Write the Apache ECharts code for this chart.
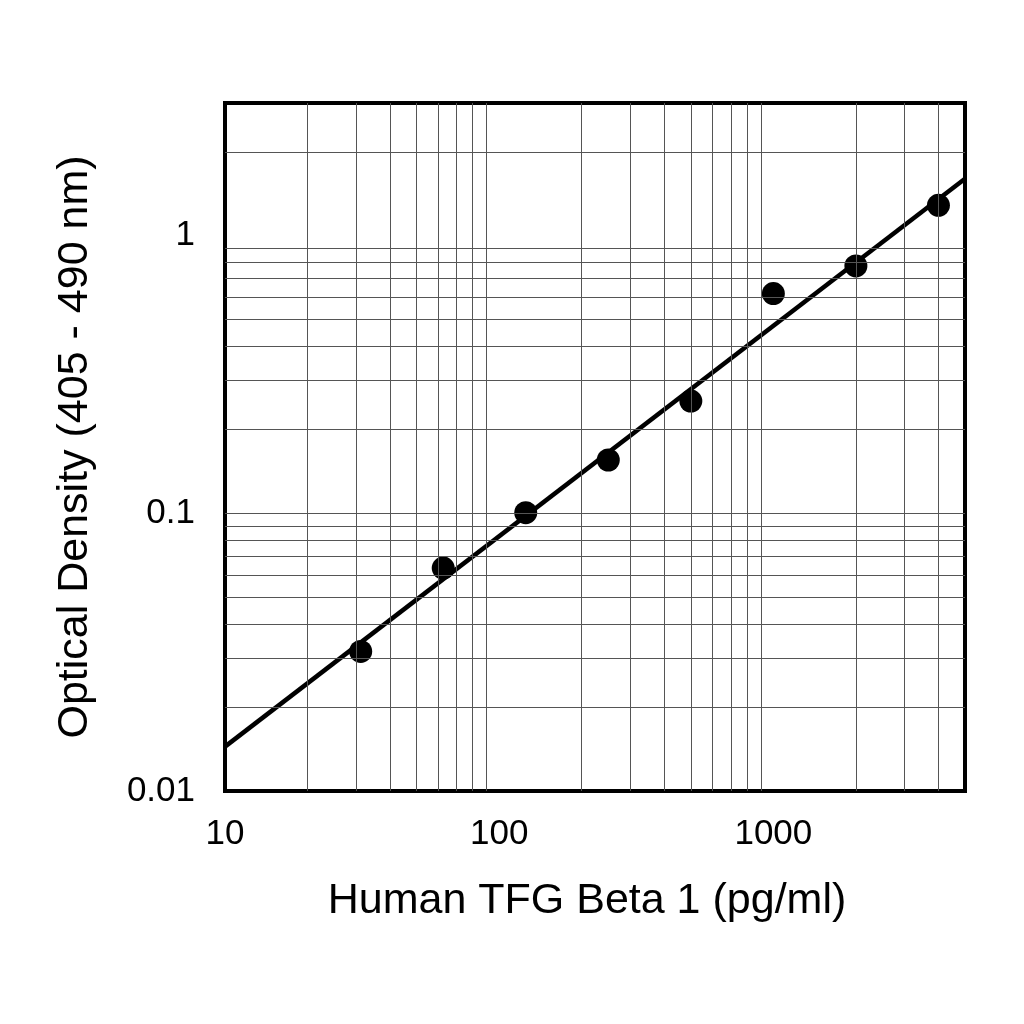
<!DOCTYPE html>
<html>
<head>
<meta charset="utf-8">
<script src="https://cdn.jsdelivr.net/npm/echarts@6/dist/echarts.min.js"></script>
<style>
html,body{margin:0;padding:0;background:#fff;}
#chart{width:1024px;height:1024px;}
</style>
</head>
<body>
<div id="chart"></div>
<script>
// Data
const concentrations = [31.25, 62.5, 125, 250, 500, 1000, 2000, 4000];
const opticalDensity = [0.0318, 0.0635, 0.1005, 0.1555, 0.2535, 0.618, 0.777, 1.285];
const fitX = [10, 5000];
const fitY = [0.01445, 1.60];
const xTickLabels = [10, 100, 1000];
const yTickLabels = [0.01, 0.1, 1];
const xGridValues = [20, 30, 40, 50, 60, 70, 80, 90, 200, 300, 400, 500, 600, 700, 800, 900, 2000, 3000, 4000];
const yGridValues = [0.02, 0.03, 0.04, 0.05, 0.06, 0.07, 0.08, 0.09, 0.1, 0.2, 0.3, 0.4, 0.5, 0.6, 0.7, 0.8, 0.9, 2];
const xName = 'Human TFG Beta 1 (pg/ml)';
const yName = 'Optical Density (405 - 490 nm)';

const FONT = "'Liberation Sans', Arial, sans-serif";
function matchTick(v, list) {
  for (const t of list) {
    if (Math.abs(v - t) / t < 1e-6) return String(t);
  }
  return '';
}

const gridMarks = [];
xGridValues.forEach(v => gridMarks.push({ xAxis: v }));
yGridValues.forEach(v => gridMarks.push({ yAxis: v }));

const chart = echarts.init(document.getElementById('chart'));
chart.setOption({
  animation: false,
  backgroundColor: '#fff',
  grid: {
    left: 225, right: 59, top: 103, bottom: 233,
    show: true, borderColor: '#000', borderWidth: 4, backgroundColor: '#fff'
  },
  xAxis: {
    type: 'log', logBase: 10, min: 10, max: 5000,
    axisLine: { show: false }, axisTick: { show: false }, splitLine: { show: false },
    axisLabel: {
      fontFamily: FONT, fontSize: 35, color: '#000', margin: 26,
      formatter: v => matchTick(v, xTickLabels)
    },
    name: xName, nameLocation: 'middle', nameGap: 89,
    nameTextStyle: { fontFamily: FONT, fontSize: 43, color: '#000', padding: [0, 16, 0, 0] }
  },
  yAxis: {
    type: 'log', logBase: 10, min: 0.01, max: 3,
    axisLine: { show: false }, axisTick: { show: false }, splitLine: { show: false },
    axisLabel: {
      fontFamily: FONT, fontSize: 35, color: '#000', margin: 30,
      formatter: v => matchTick(v, yTickLabels)
    },
    name: yName, nameLocation: 'middle', nameGap: 128,
    nameTextStyle: { fontFamily: FONT, fontSize: 43, color: '#000' }
  },
  series: [
    {
      name: 'gridlines', type: 'line', data: [], z: 1, silent: true,
      markLine: {
        silent: true, symbol: ['none', 'none'], animation: false,
        label: { show: false },
        lineStyle: { color: '#555', width: 1, type: 'solid' },
        emphasis: { disabled: true },
        data: gridMarks
      }
    },
    {
      name: 'fit', type: 'line', z: 3, silent: true,
      data: fitX.map((x, i) => [x, fitY[i]]),
      showSymbol: false, symbol: 'none',
      lineStyle: { color: '#000', width: 4.5 }
    },
    {
      name: 'data', type: 'scatter', z: 4, silent: true,
      data: concentrations.map((x, i) => [x, opticalDensity[i]]),
      symbol: 'circle', symbolSize: 23,
      itemStyle: { color: '#000', opacity: 1 }
    }
  ]
});
</script>
</body>
</html>
